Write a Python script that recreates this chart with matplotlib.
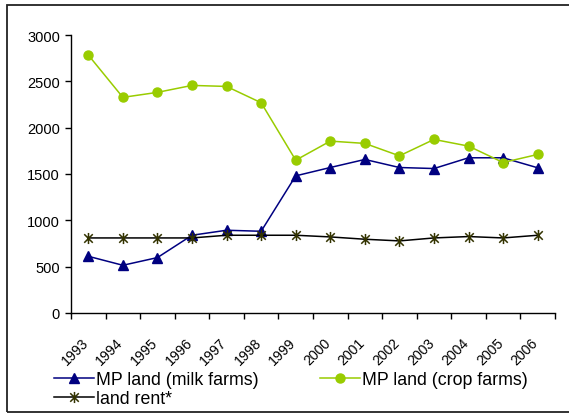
import numpy as np
import matplotlib.pyplot as plt
from matplotlib.path import Path
from matplotlib.patches import Rectangle
from matplotlib.transforms import ScaledTranslation

plt.rcParams['font.family'] = ['Liberation Sans', 'DejaVu Sans']

years = [str(y) for y in range(1993, 2007)]
milk_farms = [612, 515, 598, 839, 893, 882, 1480, 1570, 1657, 1570, 1559, 1675, 1675, 1567]
crop_farms = [2784, 2327, 2381, 2456, 2445, 2269, 1649, 1855, 1830, 1696, 1873, 1801, 1624, 1711]
land_rent = [810, 810, 810, 810, 839, 839, 839, 821, 796, 778, 810, 825, 810, 839]

# excel style star: an x with a vertical bar through it
star = Path([(-1, -1), (1, 1), (-1, 1), (1, -1), (0, -1.3), (0, 1.3)],
            [Path.MOVETO, Path.LINETO, Path.MOVETO, Path.LINETO, Path.MOVETO, Path.LINETO])

fig = plt.figure(figsize=(5.69, 4.14), dpi=100)
ax = fig.add_axes([71 / 569, 100 / 414, 484 / 569, 278 / 414])

x = np.arange(len(years))
l1, = ax.plot(x, milk_farms, color='#000080', lw=1.1, marker='^', ms=7.5,
              label='MP land (milk farms)')
l2, = ax.plot(x, crop_farms, color='#99CC00', lw=1.1, marker='o', ms=6.5,
              label='MP land (crop farms)')
l3, = ax.plot(x, land_rent, color='black', lw=1.1, marker=star, ms=8, mew=1.1,
              mec='#333300', mfc='none', label='land rent*')

ax.set_xlim(-0.5, len(years) - 0.5)
ax.set_ylim(0, 3000)
ax.set_yticks(range(0, 3001, 500))
ax.tick_params(axis='y', direction='out', length=4, width=1, labelsize=10.5, pad=4)

ax.set_xticks(x)
ax.set_xticks(np.arange(-0.5, len(years)), minor=True)
ax.tick_params(axis='x', which='major', length=0, pad=16, labelsize=10.2)
ax.tick_params(axis='x', which='minor', direction='out', length=4, width=1)
ax.set_xticklabels(years, rotation=45, ha='right', va='top', rotation_mode='anchor')
off = ScaledTranslation(-7 / 100, 0, fig.dpi_scale_trans)
for lab in ax.get_xticklabels():
    lab.set_transform(lab.get_transform() + off)

for s in ['top', 'right']:
    ax.spines[s].set_visible(False)
for s in ['left', 'bottom']:
    ax.spines[s].set_linewidth(1)

fig.legend([l1, l3, l2], [l1.get_label(), l3.get_label(), l2.get_label()],
           ncol=2, loc='upper left', bbox_to_anchor=(54 / 569, 42 / 414),
           frameon=False, fontsize=12.8, handlelength=2.25, handletextpad=0.1,
           columnspacing=3.45, labelspacing=0.14, borderpad=0, borderaxespad=0)

fig.patches.append(Rectangle((6.5 / 569, 1.5 / 414), 1.2, 407 / 414,
                             transform=fig.transFigure, fill=False,
                             edgecolor='#222222', lw=1.3))

fig.savefig('out.png', dpi=100)
